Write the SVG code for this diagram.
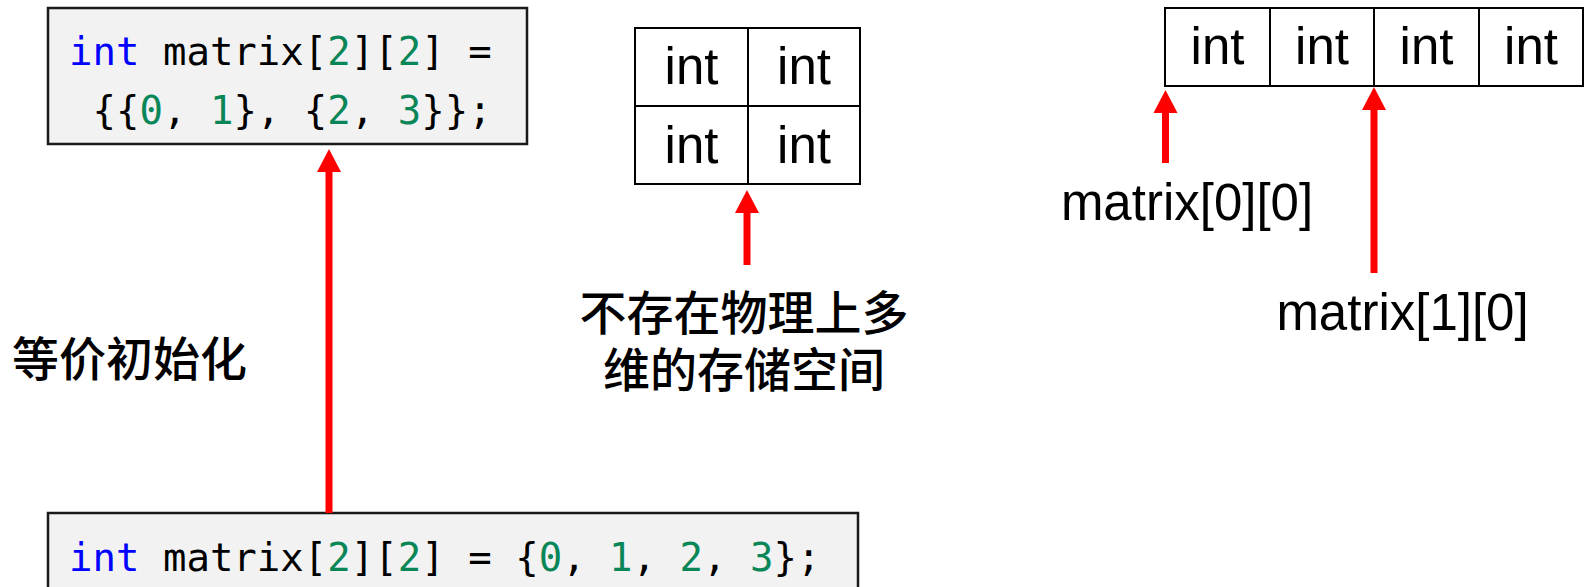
<svg xmlns="http://www.w3.org/2000/svg" width="1585" height="587" viewBox="0 0 1585 587">
<defs>
<style>
.code{font-family:"DejaVu Sans Mono","Liberation Mono",monospace;font-size:39px;fill:#000}
.kw{fill:#0000ff}
.num{fill:#098658}
.codebox{fill:#f2f2f2;stroke:#1a1a1a;stroke-width:2.5}
.cell{fill:#fff;stroke:#000;stroke-width:2}
.lbl{font-family:"Liberation Sans",Arial,sans-serif;font-size:51px;fill:#000}
.cjk{font-family:"Liberation Sans","Noto Sans CJK SC",sans-serif;font-size:47px;font-weight:500;fill:#000}
.arrow{stroke:#ff0000;stroke-width:7;fill:none;marker-end:url(#ah)}
</style>
<marker id="ah" markerUnits="userSpaceOnUse" markerWidth="24" markerHeight="24" refX="0" refY="12" orient="auto" overflow="visible">
<path d="M0,0 L23,12 L0,24 z" fill="#ff0000"/>
</marker>
</defs>
<rect width="1585" height="587" fill="#fff"/>

<g id="code2d">
<rect class="codebox" x="48" y="8" width="479" height="136"/>
<text class="code" x="69" y="65"><tspan class="kw">int</tspan> matrix[<tspan class="num">2</tspan>][<tspan class="num">2</tspan>] =</text>
<text class="code" x="69" y="124" xml:space="preserve"> {{<tspan class="num">0</tspan>, <tspan class="num">1</tspan>}, {<tspan class="num">2</tspan>, <tspan class="num">3</tspan>}};</text>
</g>

<g id="code1d">
<rect class="codebox" x="48" y="513" width="810" height="90"/>
<text class="code" x="69" y="571"><tspan class="kw">int</tspan> matrix[<tspan class="num">2</tspan>][<tspan class="num">2</tspan>] = {<tspan class="num">0</tspan>, <tspan class="num">1</tspan>, <tspan class="num">2</tspan>, <tspan class="num">3</tspan>};</text>
</g>

<g id="equiv-label">
<text class="cjk" x="12" y="376">等价初始化</text>
</g>

<g id="grid2x2">
<rect class="cell" x="635" y="28" width="113" height="78"/>
<rect class="cell" x="748" y="28" width="112" height="78"/>
<rect class="cell" x="635" y="106" width="113" height="78"/>
<rect class="cell" x="748" y="106" width="112" height="78"/>
<text class="lbl" x="691.5" y="84" text-anchor="middle">int</text>
<text class="lbl" x="804" y="84" text-anchor="middle">int</text>
<text class="lbl" x="691.5" y="163" text-anchor="middle">int</text>
<text class="lbl" x="804" y="163" text-anchor="middle">int</text>
</g>

<g id="no-physical-label">
<text class="cjk" x="744" y="330" text-anchor="middle">不存在物理上多</text>
<text class="cjk" x="744" y="387" text-anchor="middle">维的存储空间</text>
</g>

<g id="row1d">
<rect class="cell" x="1165" y="8" width="105" height="78"/>
<rect class="cell" x="1270" y="8" width="104" height="78"/>
<rect class="cell" x="1374" y="8" width="105" height="78"/>
<rect class="cell" x="1479" y="8" width="104" height="78"/>
<text class="lbl" x="1217.5" y="64" text-anchor="middle">int</text>
<text class="lbl" x="1322" y="64" text-anchor="middle">int</text>
<text class="lbl" x="1426.5" y="64" text-anchor="middle">int</text>
<text class="lbl" x="1531" y="64" text-anchor="middle">int</text>
</g>

<g id="label-00">
<text class="lbl" x="1187" y="220" text-anchor="middle">matrix[0][0]</text>
</g>
<g id="label-10">
<text class="lbl" x="1402.5" y="330" text-anchor="middle">matrix[1][0]</text>
</g>

<g id="connectors">
<line class="arrow" x1="329" y1="513" x2="329" y2="172"/>
<line class="arrow" x1="747" y1="265" x2="747" y2="213"/>
<line class="arrow" x1="1165.5" y1="163" x2="1165.5" y2="113"/>
<line class="arrow" x1="1374" y1="273" x2="1374" y2="110"/>
</g>
</svg>
